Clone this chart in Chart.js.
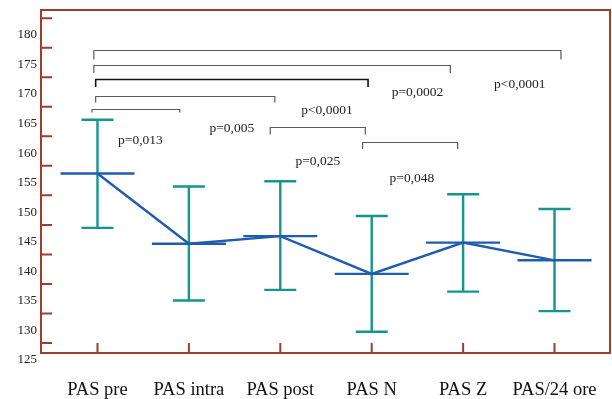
<!DOCTYPE html>
<html>
<head>
<meta charset="utf-8">
<script src="https://cdn.jsdelivr.net/npm/chart.js@4.4.0/dist/chart.umd.min.js"></script>
<style>
  html, body { margin: 0; padding: 0; background: #fff; }
  #chart { display: block; }
</style>
</head>
<body>
<canvas id="chart" width="612" height="399"></canvas>
<script>
// values
var categories = ['PAS pre', 'PAS intra', 'PAS post', 'PAS N', 'PAS Z', 'PAS/24 ore'];
var means = [156.2, 144.3, 145.6, 139.2, 144.5, 141.5];
var upper = [165.3, 154.0, 154.9, 149.0, 152.7, 150.2];
var lower = [147.0, 134.7, 136.5, 129.4, 136.2, 132.9];
var yTickLabels = [125, 130, 135, 140, 145, 150, 155, 160, 165, 170, 175, 180];

// comparison brackets (x in category units, level in mmHg)
var cmpX1 = [-0.04, -0.04, -0.02, -0.02, -0.06, 1.89, 2.90];
var cmpX2 = [5.07, 3.86, 2.96, 1.94, 0.90, 2.93, 3.94];
var cmpLevel = [177.1, 174.5, 172.2, 169.4, 167.1, 164.0, 161.5];
var cmpText = ['p<0,0001', 'p=0,0002', 'p<0,0001', 'p=0,005', 'p=0,013', 'p=0,025', 'p=0,048'];
var cmpTextX = [4.62, 3.50, 2.51, 1.47, 0.47, 2.41, 3.44];
var cmpTextY = [171.5, 170.2, 167.1, 164.1, 162.1, 158.5, 155.6];

var FRAME = '#9e3d2c';
var TEAL = '#14968f';
var BLUE = '#1f5cb0';
var SERIF = '"Liberation Serif", "Times New Roman", serif';

// whiskers as one broken line
var whiskers = [];
categories.forEach(function (c, i) {
  whiskers.push({ x: i, y: lower[i] });
  whiskers.push({ x: i, y: upper[i] });
  whiskers.push({ x: i, y: null });
});
var caps = [];
categories.forEach(function (c, i) {
  caps.push({ x: i, y: upper[i] });
  caps.push({ x: i, y: lower[i] });
});
var meanPts = means.map(function (m, i) { return { x: i, y: m }; });

var drops = [9, 7.5, 7.5, 6, 3, 7, 6.5];

function noPad(scale) {
  scale.paddingTop = 0;
  scale.paddingBottom = 0;
  scale.paddingLeft = 0;
  scale.paddingRight = 0;
}

var framePlugin = {
  id: 'frame',
  afterDatasetsDraw: function (chart) {
    var ctx = chart.ctx, a = chart.chartArea;
    var xs = chart.scales.x, ys = chart.scales.y;
    ctx.save();

    // brackets and p values
    for (var i = 0; i < cmpText.length; i++) {
      var x1 = xs.getPixelForValue(cmpX1[i]);
      var x2 = xs.getPixelForValue(cmpX2[i]);
      var y = Math.round(ys.getPixelForValue(cmpLevel[i])) + 0.5;
      ctx.beginPath();
      ctx.moveTo(x1, y + drops[i]);
      ctx.lineTo(x1, y);
      ctx.lineTo(x2, y);
      ctx.lineTo(x2, y + drops[i]);
      ctx.strokeStyle = i === 2 ? '#111' : '#5a5a5a';
      ctx.lineWidth = i === 2 ? 1.6 : 1.2;
      ctx.stroke();

      ctx.fillStyle = '#222';
      ctx.font = '13.5px ' + SERIF;
      ctx.textAlign = 'center';
      ctx.textBaseline = 'middle';
      ctx.fillText(cmpText[i], xs.getPixelForValue(cmpTextX[i]), ys.getPixelForValue(cmpTextY[i]) + 1.5);
    }

    // frame
    ctx.strokeStyle = FRAME;
    ctx.lineWidth = 2;
    ctx.strokeRect(a.left, a.top, a.right - a.left, a.bottom - a.top);

    // inner tick marks, halfway between the labels
    ctx.beginPath();
    yTickLabels.forEach(function (v) {
      var y = ys.getPixelForValue(v + 2.5);
      ctx.moveTo(a.left, y);
      ctx.lineTo(a.left + 11, y);
    });
    categories.forEach(function (c, i) {
      var x = xs.getPixelForValue(i);
      ctx.moveTo(x, a.bottom);
      ctx.lineTo(x, a.bottom - 10);
    });
    ctx.stroke();
    ctx.restore();
  }
};

new Chart(document.getElementById('chart'), {
  type: 'line',
  data: {
    datasets: [
      {
        data: meanPts,
        borderColor: BLUE,
        borderWidth: 2.4,
        pointStyle: 'line',
        pointRadius: 37,
        pointBorderColor: BLUE,
        pointBorderWidth: 2.4,
        tension: 0,
        order: 0
      },
      {
        type: 'scatter',
        data: caps,
        showLine: false,
        pointStyle: 'line',
        pointRadius: 16,
        pointBorderColor: TEAL,
        pointBorderWidth: 2.4,
        order: 1
      },
      {
        data: whiskers,
        borderColor: TEAL,
        borderWidth: 2.4,
        pointRadius: 0,
        spanGaps: false,
        order: 2
      }
    ]
  },
  options: {
    responsive: false,
    animation: false,
    events: [],
    layout: { autoPadding: false, padding: { top: 10, right: 2, left: 0, bottom: 0 } },
    plugins: { legend: { display: false }, tooltip: { enabled: false } },
    scales: {
      x: {
        type: 'linear',
        min: -0.618,
        max: 5.607,
        grid: { display: false, drawTicks: false },
        border: { display: false },
        afterBuildTicks: function (scale) {
          scale.ticks = categories.map(function (c, i) { return { value: i }; });
        },
        afterFit: function (scale) { scale.height = 46; noPad(scale); },
        ticks: {
          autoSkip: false,
          maxRotation: 0,
          padding: 26,
          color: '#111',
          font: { family: SERIF, size: 18.5 },
          callback: function (v, i) { return categories[i]; }
        }
      },
      y: {
        type: 'linear',
        min: 125.8,
        max: 183.9,
        grid: { display: false, drawTicks: false },
        border: { display: false },
        afterBuildTicks: function (scale) {
          scale.ticks = yTickLabels.map(function (v) { return { value: v }; });
        },
        afterFit: function (scale) { scale.width = 41; noPad(scale); },
        ticks: {
          padding: 4,
          labelOffset: 2,
          color: '#222',
          font: { family: SERIF, size: 13 }
        }
      }
    }
  },
  plugins: [framePlugin]
});
</script>
</body>
</html>
